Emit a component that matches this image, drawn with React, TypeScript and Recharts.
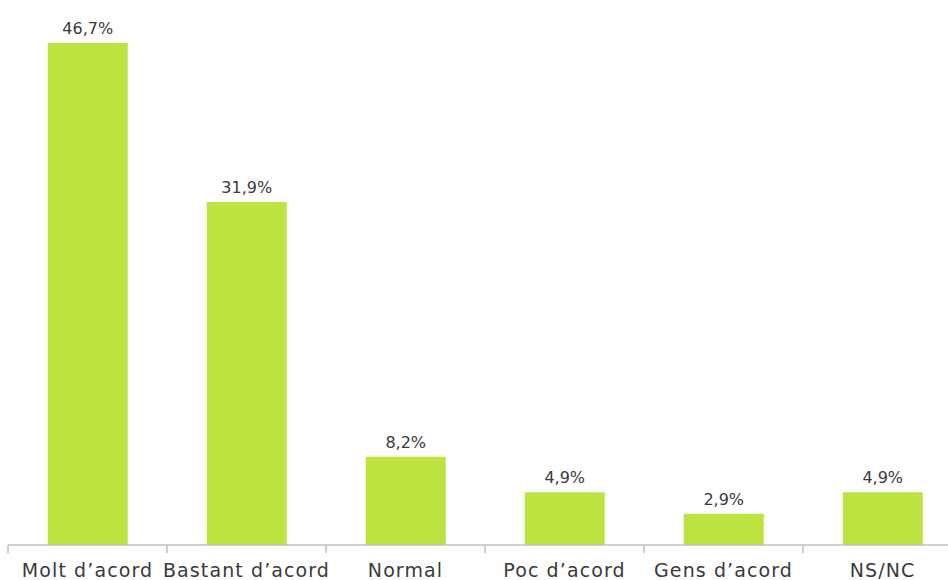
import { BarChart, Bar, XAxis, YAxis, LabelList } from "recharts";

const categories = ["Molt d’acord", "Bastant d’acord", "Normal", "Poc d’acord", "Gens d’acord", "NS/NC"];
const values = [46.7, 31.9, 8.2, 4.9, 2.9, 4.9];

const data = categories.map((name, i) => ({ name, value: values[i] }));

const GREEN = "#bce340";
const TEXT = "#3a3a3a";
const FONT = "'DejaVu Sans', sans-serif";

function CategoryTick(props: any) {
  const { x, y, payload } = props;
  const half = payload && payload.offset ? payload.offset : 79.5;
  return (
    <g>
      <line x1={x - half} y1={y - 8} x2={x - half} y2={y} stroke="#bfbfbf" strokeWidth={1.5} />
      <text x={x} y={y + 24} textAnchor="middle" fill={TEXT} fontSize={19} letterSpacing={1.1} fontFamily={FONT}>
        {payload.value}
      </text>
    </g>
  );
}

export default function App() {
  return (
    <div style={{ position: "absolute", left: 0, top: 0, width: 948, height: 580, overflow: "hidden", background: "#fff" }}>
      <BarChart
        width={970}
        height={580}
        data={data}
        margin={{ top: 7.5, right: 8, bottom: 0, left: 8 }}
        barCategoryGap="25%"
      >
        <XAxis
          dataKey="name"
          height={35}
          axisLine={{ stroke: "#bfbfbf", strokeWidth: 1.5 }}
          tickLine={false}
          tick={<CategoryTick />}
          interval={0}
        />
        <YAxis hide domain={[0, 50]} />
        <Bar dataKey="value" fill={GREEN} isAnimationActive={false}>
          <LabelList
            dataKey="value"
            position="top"
            offset={9}
            formatter={(v: any) => `${String(v).replace(".", ",")}%`}
            style={{ fill: TEXT, fontSize: 16, fontFamily: FONT }}
          />
        </Bar>
      </BarChart>
    </div>
  );
}
